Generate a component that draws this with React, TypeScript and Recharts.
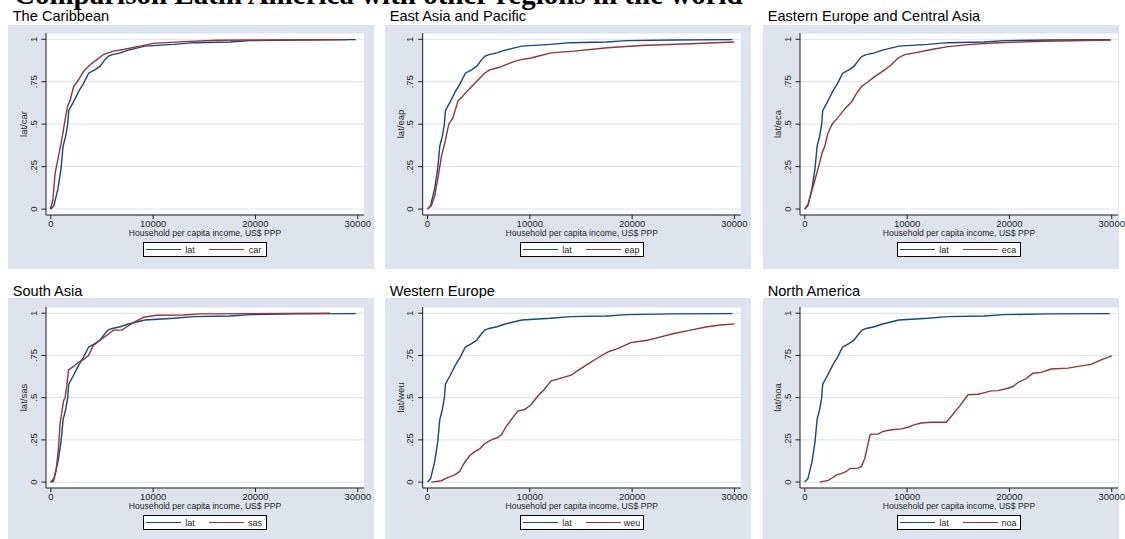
import React from "react";
import { LineChart, Line, XAxis, YAxis, CartesianGrid, Legend } from "recharts";

// cumulative share of households by per capita income (US$ PPP)
const lat = [[0, 0], [300, 0.02], [700, 0.12], [1000, 0.24], [1200, 0.37], [1450, 0.43], [1650, 0.5], [1750, 0.58], [2200, 0.63], [2700, 0.69], [3200, 0.74], [3700, 0.8], [4300, 0.82], [4800, 0.84], [5300, 0.88], [5600, 0.9], [6000, 0.91], [6800, 0.92], [7500, 0.935], [8200, 0.945], [9200, 0.96], [12000, 0.97], [14000, 0.98], [17500, 0.984], [19500, 0.992], [24000, 0.996], [29800, 0.998]];
const car = [[-50, 0], [200, 0.05], [420, 0.21], [750, 0.31], [1080, 0.41], [1400, 0.53], [1660, 0.61], [1890, 0.64], [2220, 0.72], [2700, 0.76], [3190, 0.81], [3840, 0.85], [4500, 0.88], [5150, 0.91], [6100, 0.93], [7100, 0.94], [8700, 0.96], [10000, 0.976], [13000, 0.986], [16200, 0.994], [19800, 0.996], [28900, 0.998]];
const eap = [[0, 0], [390, 0.02], [710, 0.08], [1040, 0.19], [1360, 0.31], [1690, 0.39], [2080, 0.5], [2500, 0.54], [2990, 0.64], [3380, 0.66], [3800, 0.69], [4290, 0.72], [4940, 0.76], [5580, 0.8], [6070, 0.82], [7050, 0.835], [7860, 0.855], [8510, 0.87], [9160, 0.88], [10130, 0.89], [10780, 0.9], [12080, 0.92], [14350, 0.93], [17600, 0.95], [20840, 0.963], [25710, 0.974], [29940, 0.984]];
const eca = [[0, 0], [330, 0.03], [650, 0.1], [980, 0.17], [1300, 0.24], [1690, 0.33], [1950, 0.37], [2280, 0.45], [2670, 0.5], [3250, 0.54], [3900, 0.59], [4560, 0.63], [5040, 0.68], [5530, 0.72], [6180, 0.75], [6830, 0.78], [7810, 0.82], [8460, 0.85], [9110, 0.89], [9760, 0.91], [10740, 0.92], [12370, 0.94], [13990, 0.957], [16270, 0.97], [18870, 0.98], [23430, 0.988], [29940, 0.996]];
const sas = [[-50, 0], [260, 0.004], [520, 0.07], [750, 0.2], [910, 0.35], [1240, 0.48], [1400, 0.5], [1560, 0.57], [1730, 0.665], [2220, 0.685], [2700, 0.71], [3190, 0.725], [3680, 0.75], [4170, 0.81], [4820, 0.84], [5470, 0.87], [6120, 0.9], [6940, 0.9], [7430, 0.92], [8080, 0.945], [9060, 0.976], [10360, 0.988], [12960, 0.99], [14590, 0.996], [27300, 1.0]];
const weu = [[390, 0], [1360, 0.008], [1850, 0.024], [2660, 0.043], [3150, 0.063], [3470, 0.1], [3700, 0.122], [4120, 0.156], [4610, 0.18], [5100, 0.197], [5580, 0.227], [5910, 0.24], [6400, 0.254], [6880, 0.264], [7210, 0.28], [7700, 0.33], [8180, 0.37], [8830, 0.42], [9480, 0.43], [10130, 0.458], [10780, 0.51], [11430, 0.55], [12080, 0.6], [12730, 0.61], [14030, 0.633], [14680, 0.66], [15970, 0.71], [16620, 0.735], [17600, 0.77], [18570, 0.79], [19870, 0.826], [21490, 0.84], [22790, 0.86], [24090, 0.88], [25710, 0.9], [27340, 0.92], [28640, 0.93], [30000, 0.937]];
const noa = [[1460, 0], [2280, 0.01], [2670, 0.024], [3090, 0.043], [3580, 0.05], [4070, 0.063], [4390, 0.08], [5210, 0.083], [5530, 0.093], [5860, 0.14], [6120, 0.21], [6350, 0.276], [6510, 0.284], [7160, 0.284], [7650, 0.3], [8460, 0.31], [9440, 0.315], [10090, 0.325], [10740, 0.34], [11390, 0.35], [12370, 0.354], [13830, 0.354], [14320, 0.39], [15130, 0.45], [15950, 0.517], [16920, 0.52], [17570, 0.53], [18220, 0.54], [18880, 0.542], [19850, 0.556], [20340, 0.566], [20830, 0.59], [21640, 0.613], [22290, 0.645], [23110, 0.65], [24080, 0.67], [25710, 0.675], [27010, 0.688], [27990, 0.697], [28960, 0.724], [30000, 0.748]];

const regionTitles = ["The Caribbean", "East Asia and Pacific", "Eastern Europe and Central Asia", "South Asia", "Western Europe", "North America"];
const regionCodes = ["car", "eap", "eca", "sas", "weu", "noa"];
const regionSeries = [car, eap, eca, sas, weu, noa];

const xTicks = [0, 10000, 20000, 30000];
const yTicks = [0, 0.25, 0.5, 0.75, 1];
const yTickLabels = ["0", ".25", ".5", ".75", "1"];
const xTitle = "Household per capita income, US$ PPP";
const mainTitle = "Comparison Latin America with other regions in the world";

const SANS = '"Liberation Sans", Arial, Helvetica, sans-serif';
const SERIF = '"Liberation Serif", "Times New Roman", serif';
const NAVY = "#1a476f";
const MAROON = "#90353b";
const PANEL_BG = "#dfe3ee";
const GRID = "#dbe2ec";
const INK = "#1e1e1e";

// chartWidth can run past the grey panel so the last tick label is not clipped
const cols = [
  { panelLeft: 8, panelWidth: 366, chartWidth: 366, plotLeft: 46 },
  { panelLeft: 385, panelWidth: 366, chartWidth: 366, plotLeft: 422.7 },
  { panelLeft: 763, panelWidth: 356, chartWidth: 362, plotLeft: 800 },
];
const rows = [
  { panelTop: 25, plotTop: 33, axisY: 215, titleTop: 9.3 },
  { panelTop: 298, plotTop: 307, axisY: 488, titleTop: 283.6 },
];
const PANEL_H = 244;
const PLOT_W = 318;
const LEGEND_W = 124;

const toPoints = (arr: number[][]) => arr.map(([x, y]) => ({ x, y }));

function YTick(props: any) {
  const { x, y, payload } = props;
  const i = yTicks.indexOf(payload.value);
  return (
    <text x={x} y={y} transform={`rotate(-90 ${x} ${y})`} textAnchor="middle" fontSize={9.5} fill={INK} fontFamily={SANS}>
      {yTickLabels[i]}
    </text>
  );
}

function XTick(props: any) {
  const { x, y, payload } = props;
  return (
    <text x={x} y={y} textAnchor="middle" fontSize={9.5} fill={INK} fontFamily={SANS}>
      {payload.value}
    </text>
  );
}

function LegendBox({ code }: { code: string }) {
  return (
    <div style={{ width: LEGEND_W, height: 15, boxSizing: "border-box", border: "1px solid #000", background: "#fff" }}>
      <svg width={LEGEND_W - 2} height={13} style={{ display: "block" }}>
        <line x1={2} x2={37} y1={6.5} y2={6.5} stroke={NAVY} strokeWidth={1.2} />
        <text x={46} y={9.8} textAnchor="middle" fontSize={9} fill={INK} fontFamily={SANS}>lat</text>
        <line x1={65} x2={100} y1={6.5} y2={6.5} stroke={MAROON} strokeWidth={1.2} />
        <text x={111} y={9.8} textAnchor="middle" fontSize={9} fill={INK} fontFamily={SANS}>{code}</text>
      </svg>
    </div>
  );
}

function Panel({ idx }: { idx: number }) {
  const c = cols[idx % 3];
  const r = rows[Math.floor(idx / 3)];
  const code = regionCodes[idx];
  const yAxisW = c.plotLeft - c.panelLeft;
  const xAxisH = PANEL_H - (r.axisY - r.panelTop);
  const rightM = c.panelLeft + c.chartWidth - (c.plotLeft + PLOT_W);
  const legendLeft = c.plotLeft + PLOT_W / 2 - LEGEND_W / 2 - c.panelLeft;
  const legendTop = r.axisY + 27 - r.panelTop;

  return (
    <>
      <div
        style={{
          position: "absolute",
          left: c.panelLeft + 4.7,
          top: r.titleTop,
          fontFamily: SANS,
          fontSize: 14.6,
          lineHeight: "14.6px",
          color: "#000",
          whiteSpace: "nowrap",
        }}
      >
        {regionTitles[idx]}
      </div>
      <div style={{ position: "absolute", left: c.panelLeft, top: r.panelTop, width: c.panelWidth, height: PANEL_H, background: PANEL_BG }} />
      <div style={{ position: "absolute", left: c.panelLeft, top: r.panelTop, width: c.chartWidth, height: PANEL_H }}>
        <LineChart width={c.chartWidth} height={PANEL_H} margin={{ top: r.plotTop - r.panelTop, right: rightM, bottom: 0, left: 0 }}>
          <CartesianGrid vertical={false} fill="#ffffff" stroke={GRID} strokeWidth={1} />
          <XAxis
            type="number"
            dataKey="x"
            domain={[-470, 30610]}
            allowDataOverflow
            ticks={xTicks}
            interval={0}
            height={xAxisH}
            tickSize={4}
            tickMargin={8}
            stroke={INK}
            tickLine={{ stroke: INK }}
            tick={<XTick />}
            label={{
              content: (p: any) => {
                const vb = p.viewBox;
                return (
                  <text x={vb.x + vb.width / 2} y={vb.y + 20.5} textAnchor="middle" fontSize={8.6} fill={INK} fontFamily={SANS}>
                    {xTitle}
                  </text>
                );
              },
            }}
          />
          <YAxis
            type="number"
            domain={[-0.035, 1.037]}
            allowDataOverflow
            ticks={yTicks}
            interval={0}
            width={yAxisW}
            tickSize={4.5}
            tickMargin={4.8}
            stroke={INK}
            tickLine={{ stroke: INK }}
            tick={<YTick />}
            label={{
              content: (p: any) => {
                const vb = p.viewBox;
                const lx = vb.x + vb.width - 18.7;
                const ly = vb.y + vb.height / 2;
                return (
                  <text x={lx} y={ly} transform={`rotate(-90 ${lx} ${ly})`} textAnchor="middle" fontSize={9.5} fill={INK} fontFamily={SANS}>
                    {`lat/${code}`}
                  </text>
                );
              },
            }}
          />
          <Legend
            layout="horizontal"
            align="center"
            verticalAlign="middle"
            wrapperStyle={{ left: legendLeft, top: legendTop, width: LEGEND_W, height: 15 }}
            content={() => <LegendBox code={code} />}
          />
          <Line data={toPoints(lat)} dataKey="y" name="lat" type="linear" stroke={NAVY} strokeWidth={1.4} dot={false} isAnimationActive={false} />
          <Line data={toPoints(regionSeries[idx])} dataKey="y" name={code} type="linear" stroke={MAROON} strokeWidth={1.4} dot={false} isAnimationActive={false} />
        </LineChart>
      </div>
    </>
  );
}

export default function App() {
  return (
    <div style={{ position: "absolute", left: 0, top: 0, width: 1125, height: 539, overflow: "hidden", background: "#fff" }}>
      <div
        style={{
          position: "absolute",
          left: 14,
          top: -20.2,
          fontFamily: SERIF,
          fontWeight: "bold",
          fontSize: 29,
          lineHeight: "29px",
          color: "#000",
          whiteSpace: "nowrap",
        }}
      >
        {mainTitle}
      </div>
      {regionTitles.map((_, i) => (
        <Panel key={i} idx={i} />
      ))}
    </div>
  );
}
